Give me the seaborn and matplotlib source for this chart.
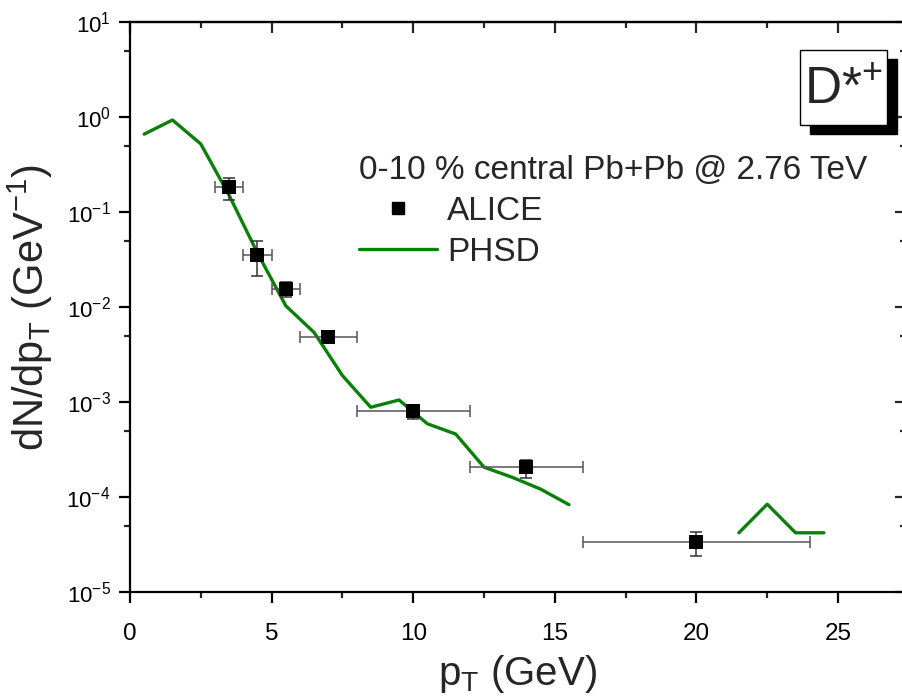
import numpy as np
import pandas as pd
import seaborn as sns
import matplotlib
matplotlib.use("Agg")
import matplotlib.pyplot as plt
from matplotlib.lines import Line2D
from matplotlib.patches import Rectangle
from matplotlib.ticker import FixedLocator, FuncFormatter, NullFormatter

# ALICE D*+ spectrum, 0-10% central Pb+Pb
alice_pt = [3.5, 4.5, 5.5, 7.0, 10.0, 14.0, 20.0]
alice_pt_lo = [3.0, 4.0, 5.0, 6.0, 8.0, 12.0, 16.0]
alice_pt_hi = [4.0, 5.0, 6.0, 8.0, 12.0, 16.0, 24.0]
alice_y = [0.185, 0.035, 0.0155, 0.0048, 0.00080, 0.000205, 3.4e-5]
alice_y_lo = [0.135, 0.021, 0.0128, 0.0043, 0.00067, 0.000158, 2.4e-5]
alice_y_hi = [0.23, 0.049, 0.0183, 0.0053, 0.00093, 0.000245, 4.3e-5]

# PHSD calculation (empty bins between 16 and 21 GeV)
phsd_pt = [0.5, 1.5, 2.5, 3.5, 4.5, 5.5, 6.5, 7.5, 8.5, 9.5, 10.5, 11.5,
           12.5, 13.5, 14.5, 15.5, 16.5, 17.5, 18.5, 19.5, 20.5, 21.5,
           22.5, 23.5, 24.5]
phsd_y = [0.66, 0.93, 0.52, 0.15, 0.037, 0.0103, 0.0054, 0.0019, 0.00088,
          0.00105, 0.00059, 0.00046, 0.000206, 0.000161, 0.000121, 8.3e-5,
          np.nan, np.nan, np.nan, np.nan, np.nan, 4.2e-5, 8.4e-5, 4.2e-5,
          4.2e-5]

y_decades = [-5, -4, -3, -2, -1, 0, 1]
x_major = [0, 5, 10, 15, 20, 25]
x_minor = [2.5, 7.5, 12.5, 17.5, 22.5]

sns.set_style("ticks")
plt.rcParams["font.family"] = ["Liberation Sans", "DejaVu Sans"]
plt.rcParams["mathtext.fontset"] = "custom"
plt.rcParams["mathtext.rm"] = "Liberation Sans"
plt.rcParams["mathtext.it"] = "Liberation Sans:italic"
plt.rcParams["mathtext.bf"] = "Liberation Sans:bold"

GREEN = "#0a800a"
W, H = 903, 698
fig = plt.figure(figsize=(W / 100, H / 100), dpi=100)
ax = fig.add_axes([130 / W, 1 - 592 / H, (906 - 130) / W, (592 - 22) / H])

# PHSD curve, split into continuous segments
phsd = pd.DataFrame({"pt": phsd_pt, "y": phsd_y})
phsd["segment"] = phsd["y"].isna().cumsum()
phsd = phsd.dropna()
sns.lineplot(data=phsd, x="pt", y="y", units="segment", estimator=None,
             color=GREEN, linewidth=2.4, ax=ax, legend=False)

# ALICE points with bin widths and uncertainties
ay = np.array(alice_y)
px = np.array(alice_pt)
xerr = [px - np.array(alice_pt_lo), np.array(alice_pt_hi) - px]
yerr = [ay - np.array(alice_y_lo), np.array(alice_y_hi) - ay]
ax.errorbar(px, ay, xerr=xerr, fmt="none", ecolor="#555555",
            elinewidth=1.1, capsize=4.0, capthick=1.1, zorder=3)
ax.errorbar(px, ay, yerr=yerr, fmt="none", ecolor="#333333",
            elinewidth=1.1, capsize=4.5, capthick=1.1, zorder=3)
sns.scatterplot(x=alice_pt, y=alice_y, marker="s", color="black", s=90,
                edgecolor="black", linewidth=0, ax=ax, zorder=4, legend=False)

ax.set_yscale("log")
ax.set_xlim(0, 27.4)
ax.set_ylim(1e-5, 10)

ax.yaxis.set_major_locator(FixedLocator([10.0 ** d for d in y_decades]))
ax.yaxis.set_major_formatter(FuncFormatter(
    lambda v, p: r"$\mathregular{10^{%d}}$" % int(round(np.log10(v)))))
ax.yaxis.set_minor_locator(FixedLocator([5 * 10.0 ** d for d in y_decades[:-1]]))
ax.yaxis.set_minor_formatter(NullFormatter())
ax.xaxis.set_major_locator(FixedLocator(x_major))
ax.xaxis.set_minor_locator(FixedLocator(x_minor))

for s in ax.spines.values():
    s.set_linewidth(1.6)
    s.set_color("black")

ax.tick_params(axis="both", which="major", direction="out", length=8,
               width=1.6, colors="black", bottom=True, left=True)
ax.tick_params(axis="x", which="major", labelsize=17.5, pad=14)
ax.tick_params(axis="y", which="major", labelsize=16, pad=6)
ax.tick_params(axis="both", which="minor", direction="out", length=4.5,
               width=1.6, bottom=True, left=True)

# inward ticks on the opposite spines
top = ax.secondary_xaxis("top")
top.xaxis.set_major_locator(FixedLocator(x_major))
top.xaxis.set_minor_locator(FixedLocator(x_minor))
top.tick_params(which="major", direction="in", length=8, width=1.6,
                labeltop=False)
top.tick_params(which="minor", direction="in", length=4.5, width=1.6)
top.spines["top"].set_linewidth(1.6)

right = ax.secondary_yaxis("right")
right.yaxis.set_major_locator(FixedLocator([10.0 ** d for d in y_decades]))
right.yaxis.set_minor_locator(FixedLocator([5 * 10.0 ** d for d in y_decades[:-1]]))
right.yaxis.set_minor_formatter(NullFormatter())
right.tick_params(which="major", direction="in", length=8, width=1.6,
                  labelright=False)
right.tick_params(which="minor", direction="in", length=4.5, width=1.6)
right.spines["right"].set_linewidth(1.6)

ax.set_xlabel(r"p$_\mathregular{T}$ (GeV)", fontsize=29, labelpad=6)
ax.set_ylabel(r"dN/dp$_\mathregular{T}$ (GeV$^\mathregular{-1}$)",
              fontsize=30, labelpad=8)

# legend
handles = [
    Line2D([], [], linestyle="none", marker="s", color="black",
           markersize=9),
    Line2D([], [], color=GREEN, linewidth=2.4),
]
leg = ax.legend(handles, ["ALICE", "PHSD"],
                title="0-10 % central Pb+Pb @ 2.76 TeV",
                loc="upper left",
                bbox_to_anchor=(359 / W, 1 - 155 / H),
                bbox_transform=fig.transFigure,
                frameon=False, fontsize=24, title_fontsize=24,
                handlelength=2.35, handletextpad=0.3, labelspacing=0.3,
                borderpad=0, borderaxespad=0, alignment="left")

# particle label box with drop shadow
bx0, by0, bx1, by1 = 800, 50, 887, 125
sh = 10
fig.patches.append(Rectangle((((bx0 + sh) / W), 1 - (by1 + sh - 1) / H),
                             (bx1 - bx0) / W, (by1 - by0) / H,
                             transform=fig.transFigure, facecolor="black",
                             edgecolor="black", zorder=5))
fig.patches.append(Rectangle((bx0 / W, 1 - by1 / H),
                             (bx1 - bx0) / W, (by1 - by0) / H,
                             transform=fig.transFigure, facecolor="white",
                             edgecolor="black", linewidth=1.0, zorder=6))
fig.text((bx0 + bx1) / 2 / W, 1 - 91 / H, r"D*$^\mathregular{+}$",
         fontsize=37, ha="center", va="center", zorder=7)

fig.savefig("out.png", dpi=100)
